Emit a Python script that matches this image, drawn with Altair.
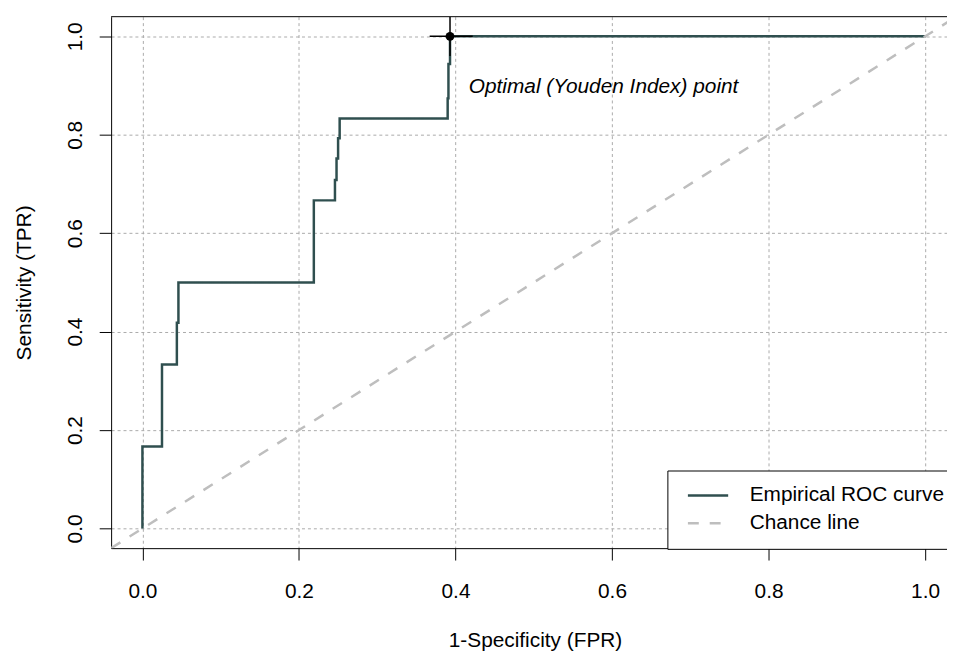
import altair as alt
import pandas as pd

# Empirical ROC curve (step path)
fpr = [0, 0, 0.025, 0.025, 0.044, 0.044, 0.046, 0.046, 0.219, 0.219, 0.246, 0.246,
       0.248, 0.248, 0.250, 0.250, 0.252, 0.252, 0.390, 0.390, 0.391, 0.391, 0.393, 0.393, 1.0]
tpr = [0, 0.1667, 0.1667, 0.3333, 0.3333, 0.418, 0.418, 0.5, 0.5, 0.6667, 0.6667, 0.708,
       0.708, 0.752, 0.752, 0.793, 0.793, 0.8333, 0.8333, 0.874, 0.874, 0.944, 0.944, 1.0, 1.0]

# Chance line (diagonal)
chance_x = [-0.04, 1.04]
chance_y = [-0.04, 1.04]

series_names = ["Empirical ROC curve", "Chance line"]

# Optimal (Youden index) point and its cross
opt_x = [0.393]
opt_y = [1.0]
cross_h_x = [0.367, 0.422]
cross_v_y = [0.96, 1.04]
note_text = ["Optimal (Youden Index) point"]
note_x = [0.417]
note_y = [0.885]

ticks = [0.0, 0.2, 0.4, 0.6, 0.8, 1.0]
XDOM = [-0.04, 1.028]
YDOM = [-0.04, 1.04]
FONT = "Liberation Sans"

rows = []
for i, (a, b) in enumerate(zip(fpr, tpr)):
    rows.append({"x": a, "y": b, "s": series_names[0], "i": i})
for i, (a, b) in enumerate(zip(chance_x, chance_y)):
    rows.append({"x": a, "y": b, "s": series_names[1], "i": i})
lines_df = pd.DataFrame(rows)

xscale = alt.Scale(domain=XDOM, nice=False, zero=False)
yscale = alt.Scale(domain=YDOM, nice=False, zero=False)

xaxis = alt.Axis(values=ticks, format=".1f", title="1-Specificity (FPR)",
                 grid=True, gridColor="#aaaaaa", gridDash=[3, 3], gridWidth=1,
                 domainColor="black", domainWidth=1, tickColor="black", tickSize=12,
                 labelFont=FONT, labelFontSize=21, labelColor="black", labelPadding=21,
                 titleFont=FONT, titleFontSize=21, titleColor="black", titleFontWeight="normal",
                 titleX=427.5, titleY=99.5, titleBaseline="alphabetic", titleAlign="center",
                 labelFlush=False)
yaxis = alt.Axis(values=ticks, format=".1f", title="Sensitivity (TPR)",
                 grid=True, gridColor="#aaaaaa", gridDash=[3, 3], gridWidth=1,
                 domainColor="black", domainWidth=1, tickColor="black", tickSize=12,
                 labelFont=FONT, labelFontSize=21, labelColor="black", labelPadding=18,
                 labelAngle=270, labelAlign="center", labelBaseline="alphabetic",
                 titleFont=FONT, titleFontSize=21, titleColor="black", titleFontWeight="normal",
                 titleAngle=270, titleX=-81, titleY=268, titleBaseline="alphabetic",
                 titleAlign="center", labelFlush=False)

legend = alt.Legend(orient="none", legendX=561, legendY=457.7, title=None,
                    padding=11.5, symbolOffset=7.5, symbolType="stroke", symbolSize=1650,
                    symbolStrokeWidth=2.5, labelFont=FONT, labelFontSize=21, labelColor="black",
                    labelOffset=20, labelLimit=400, strokeColor="black", fillColor="white",
                    clipHeight=27.3, rowPadding=0)

lines = alt.Chart(lines_df).mark_line(strokeWidth=2.5, clip=True).encode(
    x=alt.X("x:Q", scale=xscale, axis=xaxis),
    y=alt.Y("y:Q", scale=yscale, axis=yaxis),
    color=alt.Color("s:N", scale=alt.Scale(domain=series_names, range=["#2F4F4F", "#BEBEBE"]),
                    legend=legend),
    strokeDash=alt.StrokeDash("s:N", scale=alt.Scale(domain=series_names, range=[[1, 0], [11, 11]]),
                              legend=legend),
    order="i:Q",
)

top_border = alt.Chart(pd.DataFrame({"a": [0]})).mark_rule(color="black", strokeWidth=1).encode(
    x=alt.datum(XDOM[0], scale=xscale), x2=alt.datum(XDOM[1]),
    y=alt.datum(YDOM[1], scale=yscale),
)

cross_h = alt.Chart(pd.DataFrame({"x": [cross_h_x[0]], "x2": [cross_h_x[1]], "y": opt_y})).mark_rule(
    color="black", strokeWidth=1.5).encode(
    x=alt.X("x:Q", scale=xscale), x2="x2:Q", y=alt.Y("y:Q", scale=yscale))
cross_v = alt.Chart(pd.DataFrame({"x": opt_x, "y": [cross_v_y[0]], "y2": [cross_v_y[1]]})).mark_rule(
    color="black", strokeWidth=1.5, clip=True).encode(
    x=alt.X("x:Q", scale=xscale), y=alt.Y("y:Q", scale=yscale), y2="y2:Q")

opt_pt = alt.Chart(pd.DataFrame({"x": opt_x, "y": opt_y})).mark_point(
    filled=True, color="black", size=80, opacity=1).encode(
    x=alt.X("x:Q", scale=xscale), y=alt.Y("y:Q", scale=yscale))

note = alt.Chart(pd.DataFrame({"x": note_x, "y": note_y, "t": note_text})).mark_text(
    font=FONT, fontSize=21, fontStyle="italic", color="black", align="left",
    baseline="alphabetic").encode(
    x=alt.X("x:Q", scale=xscale), y=alt.Y("y:Q", scale=yscale), text="t:N")

chart = alt.layer(lines, top_border, cross_h, cross_v, opt_pt, note).properties(
    width=843, height=536,
    autosize=alt.AutoSizeParams(type="none"),
    padding={"left": 104, "top": 6, "right": 0, "bottom": 104},
    background="white",
).configure_view(stroke=None)

chart.save("out.html", embed_options={"renderer": "svg", "actions": False})
